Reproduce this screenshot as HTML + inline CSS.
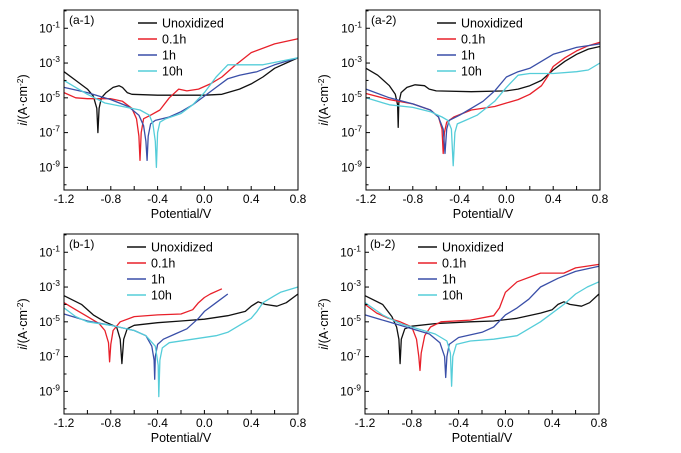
<!DOCTYPE html>
<html><head><meta charset="utf-8"><style>
body{margin:0;background:#fff;}
svg{display:block;font-family:"Liberation Sans",Arial,sans-serif;}
</style></head><body>
<svg id="chart" width="681" height="453" viewBox="0 0 681 453" xmlns="http://www.w3.org/2000/svg"></svg>
<script>
const seriesNames = ["Unoxidized","0.1h","1h","10h"];
const seriesColors = ["#111111","#e8202a","#3a4fa8","#55cdd9"];
const xTicks = [-1.2,-0.8,-0.4,0.0,0.4,0.8];
const xTickLabels = ["-1.2","-0.8","-0.4","0.0","0.4","0.8"];
const yTickExps = [-1,-3,-5,-7,-9];
const panelLabels = ["(a-1)","(a-2)","(b-1)","(b-2)"];

const a1Unox = [[-1.2,-3.5],[-1.1,-4.0],[-1.0,-4.5],[-0.95,-4.9],[-0.92,-5.6],[-0.91,-7.0],[-0.9,-5.6],[-0.88,-5.0],[-0.84,-4.7],[-0.78,-4.4],[-0.73,-4.3],[-0.7,-4.4],[-0.66,-4.7],[-0.62,-4.8],[-0.4,-4.85],[-0.2,-4.85],[0,-4.85],[0.15,-4.8],[0.3,-4.5],[0.4,-4.2],[0.5,-3.8],[0.6,-3.3],[0.7,-3.0],[0.8,-2.7]];
const a1H01 = [[-1.2,-4.7],[-1.1,-5.0],[-1.0,-5.05],[-0.8,-5.05],[-0.7,-5.2],[-0.62,-5.6],[-0.58,-6.2],[-0.56,-7.2],[-0.55,-8.6],[-0.54,-7.0],[-0.52,-6.2],[-0.46,-6.0],[-0.38,-5.7],[-0.3,-5.0],[-0.22,-4.5],[-0.15,-4.6],[-0.05,-4.5],[0.05,-4.2],[0.15,-3.8],[0.25,-3.2],[0.4,-2.4],[0.6,-1.9],[0.8,-1.6]];
const a1H1 = [[-1.2,-4.4],[-1.0,-4.7],[-0.8,-5.1],[-0.65,-5.5],[-0.56,-6.0],[-0.52,-6.6],[-0.5,-7.5],[-0.49,-8.6],[-0.48,-7.2],[-0.46,-6.5],[-0.42,-6.3],[-0.3,-6.1],[-0.2,-5.8],[-0.1,-5.4],[0,-4.9],[0.1,-4.4],[0.2,-3.9],[0.3,-3.7],[0.45,-3.5],[0.6,-3.1],[0.8,-2.7]];
const a1H10 = [[-1.2,-4.0],[-1.1,-4.4],[-1.0,-4.8],[-0.85,-5.3],[-0.7,-5.5],[-0.55,-5.7],[-0.47,-6.0],[-0.44,-6.5],[-0.42,-7.5],[-0.41,-9.0],[-0.4,-7.0],[-0.38,-6.4],[-0.33,-6.2],[-0.2,-5.9],[-0.1,-5.4],[0,-4.7],[0.1,-3.8],[0.2,-3.1],[0.3,-3.1],[0.5,-3.1],[0.8,-2.7]];

const a2Unox = [[-1.2,-3.3],[-1.1,-3.7],[-1.0,-4.3],[-0.95,-4.8],[-0.93,-5.4],[-0.925,-6.7],[-0.92,-5.3],[-0.9,-4.7],[-0.85,-4.4],[-0.78,-4.25],[-0.7,-4.3],[-0.66,-4.5],[-0.6,-4.6],[-0.3,-4.65],[0,-4.6],[0.1,-4.5],[0.2,-4.3],[0.3,-4.0],[0.4,-3.4],[0.5,-2.9],[0.6,-2.5],[0.7,-2.2],[0.8,-2.05]];
const a2H01 = [[-1.2,-4.75],[-1.0,-5.1],[-0.8,-5.35],[-0.65,-5.7],[-0.58,-6.1],[-0.55,-6.8],[-0.54,-8.2],[-0.53,-7.0],[-0.51,-6.4],[-0.45,-6.1],[-0.3,-5.7],[-0.1,-5.5],[0,-5.3],[0.1,-5.1],[0.2,-4.8],[0.3,-4.3],[0.35,-3.8],[0.4,-3.2],[0.5,-2.7],[0.6,-2.3],[0.7,-2.0],[0.8,-1.8]];
const a2H1 = [[-1.2,-4.5],[-1.0,-5.0],[-0.8,-5.35],[-0.65,-5.7],[-0.58,-6.1],[-0.54,-6.8],[-0.525,-8.2],[-0.51,-6.8],[-0.49,-6.3],[-0.4,-6.0],[-0.3,-5.6],[-0.2,-5.2],[-0.1,-4.6],[0,-3.8],[0.1,-3.5],[0.2,-3.3],[0.3,-2.9],[0.4,-2.5],[0.5,-2.3],[0.6,-2.1],[0.8,-1.9]];
const a2H10 = [[-1.2,-5.0],[-1.0,-5.4],[-0.8,-5.55],[-0.65,-5.8],[-0.55,-6.1],[-0.5,-6.3],[-0.47,-6.8],[-0.455,-8.9],[-0.44,-7.0],[-0.42,-6.5],[-0.35,-6.3],[-0.25,-6.0],[-0.1,-5.2],[0,-4.4],[0.1,-3.7],[0.2,-3.6],[0.4,-3.6],[0.6,-3.5],[0.7,-3.4],[0.8,-3.0]];

const b1Unox = [[-1.2,-3.5],[-1.05,-4.0],[-0.95,-4.6],[-0.85,-5.0],[-0.75,-5.3],[-0.72,-6.0],[-0.705,-7.4],[-0.69,-6.0],[-0.66,-5.4],[-0.6,-5.2],[-0.4,-5.05],[-0.2,-4.95],[0,-4.85],[0.2,-4.65],[0.35,-4.4],[0.4,-4.1],[0.46,-3.85],[0.52,-4.0],[0.62,-4.1],[0.7,-3.9],[0.8,-3.4]];
const b1H01 = [[-1.2,-3.9],[-1.1,-4.3],[-1.0,-4.7],[-0.9,-5.1],[-0.85,-5.5],[-0.82,-6.2],[-0.81,-7.3],[-0.8,-6.3],[-0.78,-5.5],[-0.72,-5.0],[-0.6,-4.7],[-0.4,-4.6],[-0.2,-4.55],[-0.1,-4.3],[-0.05,-3.9],[0,-3.6],[0.05,-3.4],[0.15,-3.1]];
const b1H1 = [[-1.2,-4.55],[-1.0,-4.95],[-0.8,-5.2],[-0.6,-5.5],[-0.5,-5.8],[-0.45,-6.4],[-0.43,-7.2],[-0.425,-8.3],[-0.42,-7.0],[-0.4,-6.3],[-0.35,-6.0],[-0.25,-5.7],[-0.15,-5.4],[-0.05,-4.8],[0,-4.4],[0.1,-3.9],[0.2,-3.4]];
const b1H10 = [[-1.2,-4.2],[-1.1,-4.7],[-1.0,-5.0],[-0.8,-5.2],[-0.6,-5.5],[-0.5,-5.8],[-0.42,-6.4],[-0.395,-7.5],[-0.39,-9.3],[-0.38,-7.2],[-0.36,-6.5],[-0.3,-6.2],[-0.1,-6.0],[0.1,-5.8],[0.2,-5.6],[0.3,-5.2],[0.4,-4.8],[0.45,-4.4],[0.5,-3.9],[0.6,-3.5],[0.65,-3.3],[0.7,-3.2],[0.8,-3.0]];

const b2Unox = [[-1.2,-3.5],[-1.05,-4.0],[-0.97,-4.7],[-0.93,-5.3],[-0.91,-6.0],[-0.9,-7.4],[-0.89,-6.0],[-0.86,-5.4],[-0.8,-5.25],[-0.6,-5.1],[-0.3,-5.0],[-0.1,-4.95],[0.1,-4.8],[0.3,-4.5],[0.4,-4.3],[0.45,-4.0],[0.5,-3.85],[0.55,-4.0],[0.65,-4.1],[0.72,-3.9],[0.8,-3.4]];
const b2H01 = [[-1.2,-4.0],[-1.1,-4.5],[-1.0,-4.8],[-0.9,-5.0],[-0.8,-5.3],[-0.76,-6.0],[-0.74,-7.0],[-0.73,-7.8],[-0.72,-6.8],[-0.69,-5.8],[-0.64,-5.3],[-0.55,-5.0],[-0.3,-4.9],[-0.1,-4.65],[-0.05,-4.2],[0,-3.3],[0.1,-2.7],[0.3,-2.2],[0.5,-2.2],[0.6,-1.9],[0.8,-1.7]];
const b2H1 = [[-1.2,-4.6],[-1.0,-5.0],[-0.8,-5.4],[-0.65,-5.7],[-0.56,-6.2],[-0.52,-7.0],[-0.51,-8.2],[-0.5,-7.0],[-0.48,-6.3],[-0.4,-5.9],[-0.2,-5.6],[-0.1,-5.3],[0,-4.6],[0.1,-4.2],[0.2,-3.7],[0.3,-3.0],[0.45,-2.5],[0.6,-2.1],[0.8,-1.8]];
const b2H10 = [[-1.2,-3.9],[-1.05,-4.6],[-0.9,-5.1],[-0.75,-5.4],[-0.6,-5.7],[-0.5,-6.1],[-0.47,-6.8],[-0.46,-8.7],[-0.45,-7.0],[-0.42,-6.3],[-0.3,-6.1],[-0.1,-6.0],[0.1,-5.8],[0.3,-5.0],[0.5,-4.0],[0.6,-3.4],[0.7,-3.0],[0.8,-2.7]];

const panelData = [[a1Unox,a1H01,a1H1,a1H10],[a2Unox,a2H01,a2H1,a2H10],[b1Unox,b1H01,b1H1,b1H10],[b2Unox,b2H01,b2H1,b2H10]];

const NS="http://www.w3.org/2000/svg";
const svg=document.getElementById('chart');
function mk(tag,attrs,parent){const e=document.createElementNS(NS,tag);for(const k in attrs)e.setAttribute(k,attrs[k]);(parent||svg).appendChild(e);return e;}
const layout=[{x:64,y:10,lx:138,yl:27},{x:366,y:10,lx:437,yl:328},{x:64,y:234,lx:127,yl:27},{x:365,y:234,lx:418,yl:328}];
const W=234,H=180,YTOP=0.05,YBOT=-10.3;
layout.forEach((L,pi)=>{
  const g=mk('g',{});
  
  
  const xs=v=>L.x+(v+1.2)/2.0*W;
  const ys=e=>L.y+(YTOP-e)/(YTOP-YBOT)*H;
  panelData[pi].forEach((pts,si)=>{
    const d=pts.map((p,i)=>(i?'L':'M')+xs(p[0]).toFixed(1)+' '+ys(p[1]).toFixed(1)).join(' ');
    const path=mk('path',{d:d,fill:'none',stroke:seriesColors[si],'stroke-width':1.3,'stroke-linejoin':'round'},g);
    
    
  });
  const fr=mk('rect',{x:L.x,y:L.y,width:W,height:H,fill:'none',stroke:'#000','stroke-width':1},g);
  
  
  for(let e=0;e>=-10;e--){
    const yy=ys(e);const len=(e%2!==0)?4:2.5;
    mk('line',{x1:L.x,x2:L.x+len,y1:yy,y2:yy,stroke:'#000','stroke-width':1},g);
  }
  yTickExps.forEach(e=>{
    const t=mk('text',{x:L.x-4,y:ys(e)+4,'font-size':12,'text-anchor':'end',fill:'#000'},g);
    
    
    t.innerHTML='10<tspan dy="-5" font-size="8.5">'+e+'</tspan>';
  });
  for(let v=-1.2;v<=0.801;v+=0.2){
    const xx=xs(v);const major=Math.abs(Math.round(v*10/2)*2-v*10)>0.5?false:true;
    mk('line',{x1:xx,x2:xx,y1:L.y+H,y2:L.y+H-(major?4:2.5),stroke:'#000','stroke-width':1},g);
  }
  xTicks.forEach((v,i)=>{
    const t=mk('text',{x:xs(v),y:L.y+H+13,'font-size':12,'text-anchor':'middle',fill:'#000'},g);
    
    
    t.textContent=xTickLabels[i];
  });
  const xt=mk('text',{x:L.x+W/2,y:L.y+H+28,'font-size':12.5,'text-anchor':'middle',fill:'#000'},g);
  
  
  xt.textContent='Potential/V';
  const yt=mk('text',{x:L.yl,y:L.y+H/2,'font-size':12.5,'text-anchor':'middle',fill:'#000',transform:'rotate(-90 '+L.yl+' '+(L.y+H/2)+')'},g);
  
  
  yt.innerHTML='<tspan font-style="italic">i</tspan>/(A·cm<tspan dy="-4" font-size="8.5">-2</tspan><tspan dy="4">)</tspan>';
  const pl=mk('text',{x:L.x+5,y:L.y+14,'font-size':12,fill:'#000'},g);
  
  
  pl.textContent=panelLabels[pi];
  seriesNames.forEach((n,si)=>{
    const yy=L.y+13+si*16;
    const le=mk('g',{},g);
    
    
    mk('line',{x1:L.lx,x2:L.lx+19,y1:yy,y2:yy,stroke:seriesColors[si],'stroke-width':1.5},le);
    const t=mk('text',{x:L.lx+24,y:yy+4.5,'font-size':12.5,fill:'#000'},le);
    t.textContent=n;
  });
});
</script>
</body></html>
